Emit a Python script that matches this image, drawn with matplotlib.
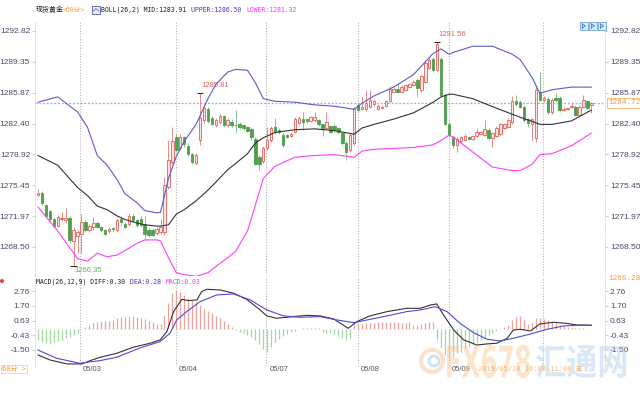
import numpy as np
import matplotlib.pyplot as plt
import matplotlib.transforms as mtransforms
from matplotlib.patches import Rectangle, Circle, PathPatch
from matplotlib.textpath import TextPath
from matplotlib.font_manager import FontProperties
from matplotlib.transforms import Affine2D

# ---- 60 min candles ----
opens = [1274.4, 1274.6, 1273.2, 1272.5, 1271.6, 1270.9, 1271.6, 1271.5, 1271.8, 1269.2,
         1269.7, 1270.0, 1271.3, 1270.4, 1270.8, 1271.2, 1270.8, 1270.4, 1270.3, 1270.6,
         1270.4, 1271.7, 1271.1, 1271.1, 1272.0, 1271.5, 1271.7, 1271.1, 1270.4, 1270.4,
         1270.1, 1270.2, 1270.2, 1275.3, 1278.1, 1280.9, 1279.6, 1280.9, 1279.9, 1279.0,
         1278.0, 1280.5, 1282.8, 1284.0, 1283.0, 1282.2, 1282.6, 1283.3, 1282.2, 1282.6,
         1282.25, 1282.4, 1282.2, 1282.0, 1281.8, 1280.7, 1278.6, 1278.2, 1279.6, 1280.5,
         1282.0, 1281.7, 1281.1, 1281.1, 1281.0, 1281.5, 1282.5, 1282.9, 1282.9, 1282.7,
         1282.8, 1282.8, 1282.3, 1281.9, 1282.1, 1282.1, 1281.9, 1281.3, 1280.2, 1279.4,
         1280.2, 1284.5, 1284.0, 1284.0, 1284.3, 1284.6, 1284.0, 1284.1, 1284.4, 1284.9,
         1286.0, 1286.3, 1285.9, 1286.2, 1286.5, 1286.7, 1287.3, 1286.2, 1287.1, 1288.7,
         1289.7, 1288.4, 1289.7, 1285.6, 1282.4, 1280.9, 1280.0, 1280.4, 1280.6, 1280.9,
         1280.7, 1281.0, 1281.2, 1281.1, 1281.7, 1280.8, 1281.0, 1281.2, 1281.9, 1282.0,
         1282.6, 1284.9, 1284.8, 1284.3, 1282.9, 1282.4, 1280.8, 1286.0, 1285.0, 1285.2,
         1283.7, 1285.3, 1285.3, 1283.9, 1284.0, 1284.3, 1284.3, 1283.4, 1284.3, 1284.9,
         1284.5]
highs = [1275.0, 1274.8, 1273.3, 1272.7, 1271.8, 1272.1, 1272.4, 1272.9, 1272.0, 1270.8,
         1270.4, 1272.2, 1271.6, 1271.1, 1271.9, 1271.4, 1270.9, 1270.5, 1270.7, 1270.8,
         1271.7, 1272.0, 1271.3, 1272.3, 1272.2, 1271.7, 1272.0, 1272.0, 1270.6, 1270.6,
         1270.7, 1271.6, 1276.4, 1280.5, 1282.0, 1281.2, 1281.2, 1281.0, 1280.2, 1279.1,
         1279.1, 1285.81, 1284.5, 1284.3, 1283.2, 1283.0, 1283.5, 1283.4, 1283.0, 1282.9,
         1283.9, 1282.6, 1282.4, 1282.1, 1282.0, 1280.9, 1278.9, 1279.9, 1282.0, 1282.1,
         1283.0, 1281.9, 1281.3, 1281.2, 1281.4, 1283.1, 1283.2, 1283.7, 1283.0, 1283.2,
         1283.7, 1282.9, 1282.4, 1283.7, 1282.2, 1282.3, 1282.0, 1281.5, 1280.4, 1281.3,
         1284.3, 1284.7, 1285.4, 1286.2, 1286.2, 1285.0, 1284.6, 1284.5, 1285.1, 1286.6,
         1286.5, 1287.0, 1286.7, 1286.9, 1287.0, 1287.3, 1287.5, 1287.9, 1289.5, 1289.8,
         1289.9, 1291.56, 1289.9, 1285.8, 1282.6, 1281.0, 1280.9, 1281.0, 1281.2, 1281.0,
         1281.1, 1281.9, 1281.6, 1282.8, 1281.9, 1281.5, 1282.1, 1282.5, 1282.5, 1283.0,
         1285.5, 1285.6, 1285.0, 1284.5, 1283.0, 1283.0, 1286.5, 1288.2, 1285.5, 1285.4,
         1285.3, 1285.8, 1285.5, 1284.3, 1284.2, 1284.7, 1284.5, 1284.5, 1285.6, 1285.1,
         1284.8]
lows = [1274.2, 1273.2, 1271.8, 1271.3, 1270.6, 1270.7, 1271.4, 1271.2, 1269.0, 1266.35,
        1267.8, 1267.8, 1270.2, 1270.2, 1270.4, 1270.6, 1270.2, 1269.9, 1270.1, 1270.2,
        1270.2, 1271.0, 1270.6, 1270.9, 1271.3, 1270.8, 1270.8, 1269.3, 1269.6, 1269.7,
        1269.9, 1270.0, 1269.8, 1275.0, 1277.8, 1279.2, 1279.4, 1279.8, 1278.8, 1277.9,
        1277.7, 1280.0, 1282.5, 1282.5, 1282.2, 1282.0, 1282.4, 1282.0, 1282.0, 1282.0,
        1281.3, 1281.8, 1281.7, 1281.4, 1280.6, 1277.7, 1277.2, 1278.0, 1279.4, 1280.3,
        1281.2, 1281.2, 1279.8, 1280.8, 1280.9, 1281.3, 1282.4, 1281.7, 1282.5, 1282.6,
        1282.6, 1282.1, 1281.0, 1281.8, 1281.3, 1281.5, 1281.2, 1280.0, 1278.3, 1279.2,
        1280.0, 1283.7, 1283.9, 1283.8, 1284.2, 1284.4, 1283.9, 1284.0, 1284.3, 1284.8,
        1285.9, 1285.8, 1285.8, 1286.1, 1286.4, 1286.6, 1285.4, 1286.0, 1287.0, 1288.5,
        1288.2, 1288.2, 1285.4, 1282.2, 1280.9, 1279.6, 1279.2, 1280.2, 1280.5, 1280.6,
        1280.6, 1280.9, 1281.1, 1281.0, 1280.6, 1279.8, 1280.9, 1281.0, 1281.8, 1281.9,
        1282.4, 1284.4, 1284.1, 1282.6, 1282.0, 1280.5, 1280.3, 1284.9, 1284.8, 1283.5,
        1283.5, 1284.8, 1283.7, 1283.8, 1283.9, 1284.1, 1283.3, 1283.2, 1284.1, 1284.0,
        1283.6]
closes = [1274.6, 1273.4, 1272.0, 1271.6, 1270.9, 1271.9, 1271.8, 1271.8, 1269.3, 1270.4,
          1270.2, 1271.3, 1270.4, 1270.9, 1271.2, 1270.8, 1270.4, 1270.0, 1270.5, 1270.5,
          1271.5, 1271.3, 1270.8, 1272.0, 1271.5, 1271.0, 1271.0, 1270.0, 1269.8, 1269.9,
          1270.5, 1270.7, 1275.5, 1278.3, 1280.4, 1279.4, 1280.9, 1280.1, 1279.0, 1278.1,
          1278.9, 1283.0, 1284.1, 1282.7, 1282.4, 1282.8, 1283.3, 1282.2, 1282.8, 1282.2,
          1282.2, 1282.0, 1281.9, 1281.6, 1280.9, 1277.9, 1277.9, 1279.7, 1280.5, 1281.9,
          1281.4, 1281.4, 1280.0, 1280.9, 1281.2, 1282.9, 1283.0, 1282.6, 1282.7, 1283.1,
          1283.1, 1282.3, 1281.9, 1282.6, 1281.5, 1281.7, 1281.4, 1280.2, 1279.2, 1281.1,
          1284.1, 1283.9, 1284.3, 1284.7, 1285.0, 1284.9, 1284.4, 1284.3, 1284.9, 1286.3,
          1286.3, 1285.9, 1286.5, 1286.7, 1286.9, 1287.1, 1286.4, 1287.7, 1289.2, 1289.6,
          1288.4, 1291.3, 1285.6, 1282.4, 1281.1, 1280.0, 1280.7, 1280.9, 1281.0, 1280.7,
          1281.0, 1281.5, 1281.5, 1281.8, 1280.8, 1281.3, 1281.9, 1282.3, 1282.3, 1282.8,
          1284.9, 1284.6, 1284.3, 1282.8, 1282.5, 1282.9, 1286.2, 1285.1, 1285.3, 1283.7,
          1285.1, 1285.0, 1283.9, 1284.0, 1284.1, 1284.4, 1283.4, 1284.3, 1285.1, 1284.2,
          1284.72]

# ---- BOLL(26,2) bands, sampled at bar positions ----
boll_idx = [0, 5, 10, 12.5, 15, 17.5, 20, 22, 25, 27, 30, 31, 33, 35, 37, 40, 43, 45, 48,
            50, 53, 55, 57, 60, 65, 70, 75, 80, 82, 85, 90, 95, 100, 102, 104, 105, 110,
            115, 120, 122, 125, 127, 130, 135, 140]
boll_upper = [1284.8, 1285.4, 1283.7, 1282.0, 1278.8, 1277.7, 1276.1, 1274.5, 1273.5, 1272.6,
              1272.35, 1272.4, 1276.2, 1278.7, 1280.4, 1282.3, 1285.2, 1286.8, 1288.2,
              1288.5, 1288.4, 1287.0, 1285.2, 1284.9, 1284.8, 1284.5, 1284.35, 1284.0, 1284.7,
              1285.5, 1286.5, 1287.9, 1290.3, 1290.8, 1290.2, 1290.4, 1291.1,
              1291.1, 1290.2, 1289.6, 1287.6, 1285.8, 1286.2, 1286.5, 1286.5]
boll_mid = [1278.8, 1277.7, 1275.2, 1274.3, 1273.1, 1272.7, 1272.0, 1271.6, 1271.2, 1271.0,
            1270.85, 1270.85, 1271.0, 1272.2, 1272.7, 1273.7, 1274.9, 1275.8, 1277.2,
            1277.9, 1279.0, 1280.2, 1280.8, 1281.4, 1281.7, 1281.8, 1281.6, 1281.2, 1281.9,
            1282.3, 1282.9, 1283.6, 1284.8, 1285.4, 1285.7, 1285.7, 1285.2,
            1284.3, 1283.45, 1283.1, 1282.65, 1282.3, 1282.3, 1282.7, 1283.91]
boll_lower = [1273.0, 1270.3, 1267.2, 1266.9, 1267.8, 1267.4, 1267.6, 1268.1, 1268.9, 1269.3,
              1269.3, 1269.2, 1267.3, 1265.6, 1265.4, 1265.2, 1265.6, 1266.3, 1267.3,
              1268.0, 1270.3, 1273.2, 1276.2, 1277.6, 1278.6, 1278.8, 1278.9, 1278.6, 1279.3,
              1279.5, 1279.6, 1279.7, 1280.0, 1280.5, 1281.1, 1280.9, 1279.2,
              1277.5, 1277.1, 1277.1, 1277.8, 1278.9, 1279.0, 1279.9, 1281.32]

# ---- MACD(26,12,9) ----
macd_hist = [-0.77, -0.89, -1.01, -1.06, -0.95, -0.85, -0.75, -0.62, -0.53, -0.42, -0.30, 0.05,
             0.14, 0.31, 0.45, 0.52, 0.58, 0.60, 0.62, 0.70, 0.80, 0.87, 0.90, 0.97, 0.97,
             0.92, 0.85, 0.75, 0.62, 0.50, 0.40, 0.38, 1.00, 1.90, 2.60, 2.85, 2.70, 2.45,
             2.25, 2.10, 1.95, 1.75, 1.50, 1.30, 1.15, 0.95, 0.80, 0.60, 0.35, 0.15, -0.05,
             -0.17, -0.29, -0.41, -0.53, -0.75, -1.05, -1.45, -1.62, -1.30, -0.95, -0.70,
             -0.50, -0.35, -0.20, -0.10,
             0.05, 0.10, 0.12, 0.10, 0.08, 0.06,
             -0.17, -0.24, -0.29, -0.36, -0.48, -0.65, -0.77, -0.60,
             0.30, 0.42, 0.38, 0.45, 0.48, 0.48, 0.50, 0.50, 0.52, 0.52, 0.52, 0.50, 0.48,
             0.48, 0.50, 0.30, 0.22, 0.38, 0.48, 0.55, 0.55,
             -0.77, -1.38, -1.86, -2.10, -2.00, -1.74, -1.62, -1.38, -1.26, -1.15, -1.01,
             -0.77, -0.65, -0.41, -0.24, -0.10,
             0.05, 0.15, 0.31, 0.65, 0.90, 0.95, 0.70, 0.35, 0.45, 0.80, 0.80, 0.72, 0.68,
             0.55, 0.43, 0.30, 0.24, 0.19, 0.15, 0.10, 0.07, 0.06, 0.05, 0.03]
diff_idx = [0, 3, 7.3, 11.1, 13.2, 15.7, 19.9, 24.1, 28.4, 30.9, 32.6, 34.3, 36.4, 38.1, 40.2,
            41.4, 42.7, 46.1, 49.5, 52.8, 56.2, 57.9, 60.4, 64.6, 68, 71.4, 74.8, 78.5, 80.7,
            84, 88.3, 93.3, 96.7, 99.3, 100.9, 102.6, 105.2, 107.7, 111.1, 113.6, 116.1,
            118.7, 120.3, 122, 124.6, 127, 130.5, 133.8, 136.4, 140]
diff_val = [-1.86, -2.22, -2.51, -2.51, -2.27, -2.03, -1.74, -1.30, -1.01, -0.77, -0.17, 1.28,
            2.17, 2.08, 2.13, 2.73, 2.90, 2.85, 2.61, 2.17, 1.40, 0.97, 0.80, 0.92, 1.01, 0.97,
            0.75, 0.07, 0.56, 0.97, 1.28, 1.52, 1.52, 1.76, 1.84, 1.04, -0.05, -0.77, -1.14,
            -1.06, -1.01, -0.65, -0.05, 0.0, -0.12, 0.39, 0.51, 0.43, 0.31, 0.30]
dea_idx = [0, 4.7, 10.6, 15.7, 19.9, 25.8, 30.9, 33.4, 35.1, 37.6, 41, 45.2, 49.5, 53.7, 57.9,
           62.1, 66.3, 71.4, 75.6, 79.9, 84, 88.3, 93.3, 96.7, 100.5, 103.5, 106.8, 110.2,
           113.6, 117, 120.3, 124.6, 128.8, 133, 137.3, 140]
dea_val = [-1.50, -2.10, -2.46, -2.27, -2.03, -1.35, -0.89, -0.29, 0.68, 1.28, 2.00, 2.49,
           2.56, 2.13, 1.40, 0.97, 0.87, 0.92, 0.68, 0.48, 0.72, 0.97, 1.28, 1.40, 1.64, 1.28,
           0.43, -0.24, -0.72, -0.85, -0.65, -0.34, 0.0, 0.24, 0.31, 0.28]

price_ticks = [1292.82, 1289.35, 1285.87, 1282.40, 1278.92, 1275.45, 1271.97, 1268.50]
macd_ticks = [2.76, 1.70, 0.63, -0.43, -1.50]
day_lines = [10.6, 34.9, 57.8, 80.9, 103.9, 127.8]
day_labels = ['05/03', '05/04', '05/07', '05/08', '05/09', '']
mark_high = [41, 101]
mark_low = [9]

W, H = 640, 400
RED, RED_FACE, RED_WICK = '#e0605a', '#fbe4e1', '#e88a85'
GREEN, GREEN_WICK = '#4f9f4f', '#8cc48c'
TICK_COL = '#4a4a6a'

fig = plt.figure(figsize=(6.4, 4.0), dpi=100)


def fr(x0, y0, x1, y1):
    # pixel box (top-left origin) -> figure fraction rect
    return [x0 / W, 1 - y1 / H, (x1 - x0) / W, (y1 - y0) / H]


ax1 = fig.add_axes(fr(35, 22, 605, 275.6))
ax2 = fig.add_axes(fr(35, 277, 605, 366))

n = len(closes)
idx = np.arange(n)
o = np.array(opens); c = np.array(closes)
hi = np.array(highs); lo = np.array(lows)
up = c >= o

# candles
ax1.vlines(idx[up], lo[up], hi[up], colors=RED_WICK, lw=0.7, zorder=2)
ax1.vlines(idx[~up], lo[~up], hi[~up], colors=GREEN_WICK, lw=0.7, zorder=2)
body = np.maximum(np.abs(c - o), 0.06)
bottom = np.minimum(c, o)
ax1.bar(idx[up], body[up], bottom=bottom[up], width=0.62, color=RED_FACE,
        edgecolor=RED, linewidth=0.6, zorder=3)
ax1.bar(idx[~up], body[~up], bottom=bottom[~up], width=0.62, color=GREEN,
        edgecolor=GREEN, linewidth=0.6, zorder=3)

# bollinger
ax1.plot(boll_idx, boll_upper, color='#5c5cc8', lw=0.8, zorder=4)
ax1.plot(boll_idx, boll_mid, color='#333333', lw=0.8, zorder=4)
ax1.plot(boll_idx, boll_lower, color='#ff3cff', lw=0.8, zorder=4)

# current price line
ax1.axhline(closes[-1], color='#7ab6f0', ls=(0, (1.5, 1.5)), lw=0.9, zorder=1)

# extreme markers
for i in mark_high:
    ax1.hlines(highs[i], i - 0.8, i + 0.8, color='#222222', lw=0.7, zorder=5)
    ax1.annotate('%.2f' % highs[i], (i, highs[i]), xytext=(1, 3), textcoords='offset points',
                 fontsize=5.5, color=RED, family='Liberation Sans', va='bottom', ha='left')
for i in mark_low:
    ax1.hlines(lows[i], i - 0.8, i + 0.8, color='#222222', lw=0.7, zorder=5)
    ax1.annotate('%.2f' % lows[i], (i, lows[i]), xytext=(1, -1), textcoords='offset points',
                 fontsize=5.5, color='#62b062', family='Liberation Sans', va='top', ha='left')

# macd
hist = np.array(macd_hist)
ax2.vlines(idx[hist >= 0], 0, hist[hist >= 0], colors='#eba39f', lw=0.9)
ax2.vlines(idx[hist < 0], 0, hist[hist < 0], colors='#a3d6a3', lw=0.9)
ax2.plot(diff_idx, diff_val, color='#333333', lw=0.8)
ax2.plot(dea_idx, dea_val, color='#4c4cd0', lw=0.8)

x_left = (35 - 38) / 3.952
x_right = (605 - 38) / 3.952
ax1.set_xlim(x_left, x_right)
ax2.set_xlim(x_left, x_right)
ax1.set_ylim(1265.28, 1293.83)
ax2.set_ylim(-2.66, 3.79)

ax1.set_yticks(price_ticks, ['%.2f' % v for v in price_ticks])
ax2.set_yticks(macd_ticks, ['%.2f' % v for v in macd_ticks])
for ax in (ax1, ax2):
    ax.set_xticks([])
    ax.tick_params(axis='y', left=True, right=True, labelleft=True, labelright=True,
                   length=2, width=0.5, color='#b8b8b8', labelsize=6, labelcolor=TICK_COL,
                   pad=1.5)
    for lab in ax.get_yticklabels():
        lab.set_family('Liberation Sans')
    for s in ('top', 'bottom'):
        ax.spines[s].set_visible(False)
    for s in ('left', 'right'):
        ax.spines[s].set_color('#d0d0d0')
        ax.spines[s].set_linestyle((0, (1, 2)))
        ax.spines[s].set_linewidth(0.6)
    ax.patch.set_alpha(0)
    for d in day_lines:
        ax.axvline(d, color='#b4b4b4', ls=(0, (1, 1.5)), lw=0.8, zorder=0)

# date labels
tr = mtransforms.blended_transform_factory(ax2.transData, ax2.transAxes)
for d, lab in zip(day_lines, day_labels):
    ax2.text(d + 0.8, -0.035, lab, transform=tr, fontsize=5.5, color='#555555',
             family='Liberation Sans', va='center', ha='left')

# right side price tags
trp = mtransforms.blended_transform_factory(ax1.transAxes, ax1.transData)
ax1.text(1.006, closes[-1], '%.2f' % closes[-1], transform=trp, fontsize=5.5, color='#f09a30',
         family='Liberation Mono', va='center', ha='left',
         bbox=dict(boxstyle='square,pad=0.15', fc='white', ec='#f5b060', lw=0.6))
fig.text(608 / W, 1 - 279 / H, '1265.28', fontsize=5.5, color='#f09a30',
         family='Liberation Mono', va='center', ha='left')

# header lines
MONO = ['DejaVu Sans Mono', 'Noto Sans CJK SC']
cw = 3.93


def htext(x, y, s, color, family=MONO, size=4.7):
    fig.text(x / W, 1 - y / H, s, fontsize=size, color=color, family=family,
             va='center', ha='left')


htext(36, 10, '现货黄金', '#222222', family=['Noto Sans CJK SC'], size=5)
htext(63, 10, '<60分>', '#f0a040')
s1 = 'BOLL(26,2) MID:1283.91 '
s2 = 'UPPER:1286.50 '
htext(101, 10, s1, '#222222')
htext(101 + cw * len(s1), 10, s2, '#3c3cc0')
htext(101 + cw * (len(s1) + len(s2)), 10, 'LOWER:1281.32', '#ff30ff')
m1 = 'MACD(26,12,9) DIFF:0.30 '
m2 = 'DEA:0.28 '
htext(36, 282, m1, '#222222')
htext(36 + cw * len(m1), 282, m2, '#3c3cc0')
htext(36 + cw * (len(m1) + len(m2)), 282, 'MACD:0.03', '#ff30ff')

# overlay for icons and watermark (pixel coordinates)
ov = fig.add_axes([0, 0, 1, 1], zorder=10)
ov.set_xlim(0, W)
ov.set_ylim(H, 0)
ov.axis('off')
ov.add_patch(Rectangle((92, 6), 8, 8, fc='#e8eefc', ec='#4060c0', lw=0.6))
ov.plot([93.5, 96, 98.5], [11, 8.5, 11], color='#e04040', lw=0.6)
for x0 in (580, 589, 598):
    ov.add_patch(Rectangle((x0, 22), 7.5, 7.5, fc='#dcebfa', ec='#6aa4dc', lw=0.6))
    ov.plot([x0 + 2.2, x0 + 2.2], [23.8, 27.8], color='#3a7cc8', lw=0.6)
    ov.plot([x0 + 2.2, x0 + 5.5, x0 + 2.2], [23.8, 25.8, 27.8], color='#3a7cc8', lw=0.6)
ov.add_patch(Circle((2, 281), 2, fc='#e04040', ec='none'))
ov.text(2, 369, '60分 >', fontsize=5, color='#f09a30', family=MONO, va='center', ha='left',
        bbox=dict(boxstyle='square,pad=0.2', fc='white', ec='#f5c080', lw=0.5))

# watermark


def stretched(s, x0, y0, x1, y1, color, family):
    tp = TextPath((0, 0), s, size=10, prop=FontProperties(family=family, weight='bold'))
    bb = tp.get_extents()
    t = (Affine2D().translate(-bb.x0, -bb.y0)
         .scale((x1 - x0) / bb.width, -(y1 - y0) / bb.height).translate(x0, y1))
    ov.add_patch(PathPatch(t.transform_path(tp), fc=color, ec='none', alpha=0.45))


ov.add_patch(Circle((432, 361), 11, fc='none', ec='#f6c89a', lw=3, alpha=0.5))
ov.add_patch(Circle((434, 361), 5, fc='none', ec='#9cc4ea', lw=2, alpha=0.5))
stretched('FX678', 447, 345, 530, 378, '#f7c690', 'DejaVu Sans')
stretched('汇通网', 536, 345, 626, 378, '#a9cdee', 'Noto Sans CJK SC')
ov.text(478, 369, '2019/05/10 10:00-11:00 五', fontsize=5, color='#f0a860', alpha=0.8,
        family=MONO, va='center', ha='left')

fig.savefig('out.png', dpi=100)
